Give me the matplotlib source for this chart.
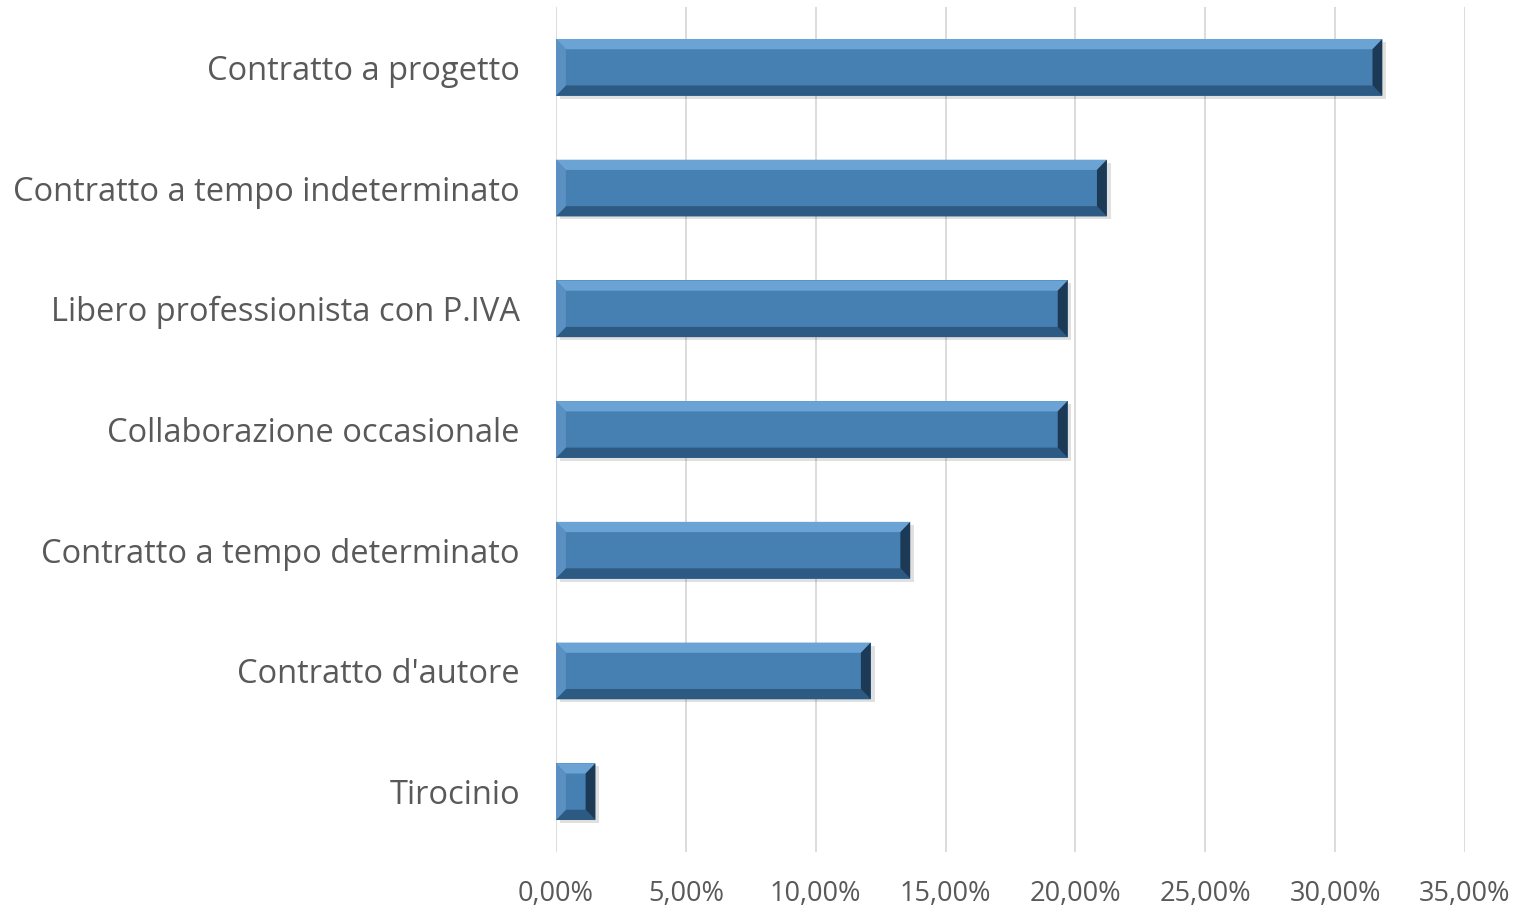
import matplotlib
matplotlib.use("Agg")
import matplotlib.pyplot as plt
from matplotlib.patches import Polygon, Rectangle
from matplotlib.ticker import FuncFormatter

categories = [
    "Contratto a progetto",
    "Contratto a tempo indeterminato",
    "Libero professionista con P.IVA",
    "Collaborazione occasionale",
    "Contratto a tempo determinato",
    "Contratto d'autore",
    "Tirocinio",
]
values = [31.82, 21.21, 19.70, 19.70, 13.64, 12.12, 1.52]
xticks = [0, 5, 10, 15, 20, 25, 30, 35]

plt.rcParams['font.family'] = ['Open Sans', 'DejaVu Sans']

fig = plt.figure(figsize=(15.22, 9.09), dpi=100)
ax = fig.add_axes([0.3653, 0.0627, 0.5972, 0.9296])

n = len(categories)
ys = list(range(n))[::-1]
h = 0.47
bx = 0.38   # bevel width in x (percent)
by = 0.085  # bevel height in y units

face = "#4680b2"
top_c = "#6aa3d4"
bot_c = "#2c5a82"
left_c = "#5a90c2"
right_c = "#1c3a56"

for y, v in zip(ys, values):
    y0, y1 = y - h / 2, y + h / 2
    # soft shadow
    ax.add_patch(Rectangle((0.15, y0 - 0.025), v, h, color="#000000", alpha=0.12, lw=0, zorder=2))
    ax.add_patch(Rectangle((0, y0), v, h, facecolor=face, edgecolor="none", zorder=3))
    ax.add_patch(Polygon([(0, y1), (v, y1), (v - bx, y1 - by), (bx, y1 - by)],
                         closed=True, facecolor=top_c, edgecolor="none", zorder=4))
    ax.add_patch(Polygon([(0, y0), (v, y0), (v - bx, y0 + by), (bx, y0 + by)],
                         closed=True, facecolor=bot_c, edgecolor="none", zorder=4))
    ax.add_patch(Polygon([(0, y0), (0, y1), (bx, y1 - by), (bx, y0 + by)],
                         closed=True, facecolor=left_c, edgecolor="none", zorder=4))
    ax.add_patch(Polygon([(v, y0), (v, y1), (v - bx, y1 - by), (v - bx, y0 + by)],
                         closed=True, facecolor=right_c, edgecolor="none", zorder=4))

ax.set_xlim(0, 35)
ax.set_ylim(-0.5, n - 0.5)
ax.set_yticks(ys)
ax.set_yticklabels(categories)
ax.set_xticks(xticks)
ax.xaxis.set_major_formatter(FuncFormatter(lambda x, p: f"{x:.2f}".replace(".", ",") + "%"))
ax.grid(axis="x", color="#d9d9d9", lw=1.3, zorder=0)
ax.set_axisbelow(True)
for s in ax.spines.values():
    s.set_visible(False)
ax.tick_params(axis="y", length=0, pad=26, labelsize=23.5, labelcolor="#595959")
ax.tick_params(axis="x", length=0, pad=20, labelsize=19.5, labelcolor="#595959")

fig.savefig("out.png", dpi=100)
